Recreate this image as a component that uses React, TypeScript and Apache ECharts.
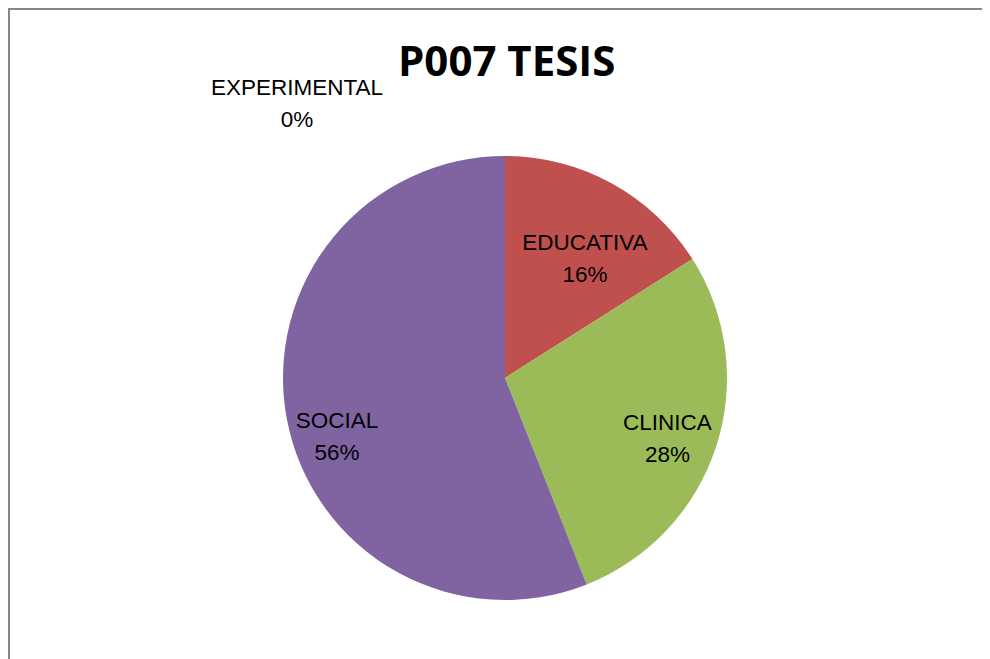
import React, { useEffect, useRef } from "react";
import * as echarts from "echarts";

const categories = ["EXPERIMENTAL", "EDUCATIVA", "CLINICA", "SOCIAL"];
const values = [0, 4, 7, 14];
const colors = ["#4F81BD", "#C0504D", "#9BBB59", "#8064A2"];
const labelOffsets = [
  [-208, -161],
  [25, -20],
  [54, 25],
  [-56, 37],
];

export default function App() {
  const ref = useRef<HTMLDivElement>(null);
  useEffect(() => {
    if (!ref.current) return;
    const chart = echarts.init(ref.current, null, { renderer: "svg" });
    chart.setOption({
      animation: false,
      backgroundColor: "#ffffff",
      title: {
        text: "P007 TESIS",
        left: 390,
        top: 30,
        padding: 0,
        textStyle: {
          fontFamily: "'Open Sans', sans-serif",
          fontWeight: "bold",
          fontSize: 42,
          lineHeight: 42,
          color: "#000000",
        },
      },
      graphic: [
        { type: "line", shape: { x1: 0, y1: 1, x2: 982, y2: 1 }, style: { stroke: "#868686", lineWidth: 2 } },
        { type: "line", shape: { x1: 1, y1: 0, x2: 1, y2: 651 }, style: { stroke: "#868686", lineWidth: 2 } },
      ],
      series: [
        {
          type: "pie",
          center: [497, 370],
          radius: [0, 222],
          startAngle: 90,
          clockwise: true,
          percentPrecision: 0,
          avoidLabelOverlap: false,
          labelLine: { show: false },
          label: {
            show: true,
            position: "inside",
            formatter: "{b}\n{d}%",
            fontFamily: "'Liberation Sans', Arial, sans-serif",
            fontSize: 22.5,
            lineHeight: 32,
            color: "#000000",
            align: "center",
          },
          emphasis: { disabled: true },
          data: categories.map((name, i) => ({
            name,
            value: values[i],
            itemStyle: { color: colors[i] },
            label: { offset: labelOffsets[i] },
          })),
        },
      ],
    });
    return () => chart.dispose();
  }, []);
  return <div ref={ref} style={{ width: 982, height: 651 }} />;
}
